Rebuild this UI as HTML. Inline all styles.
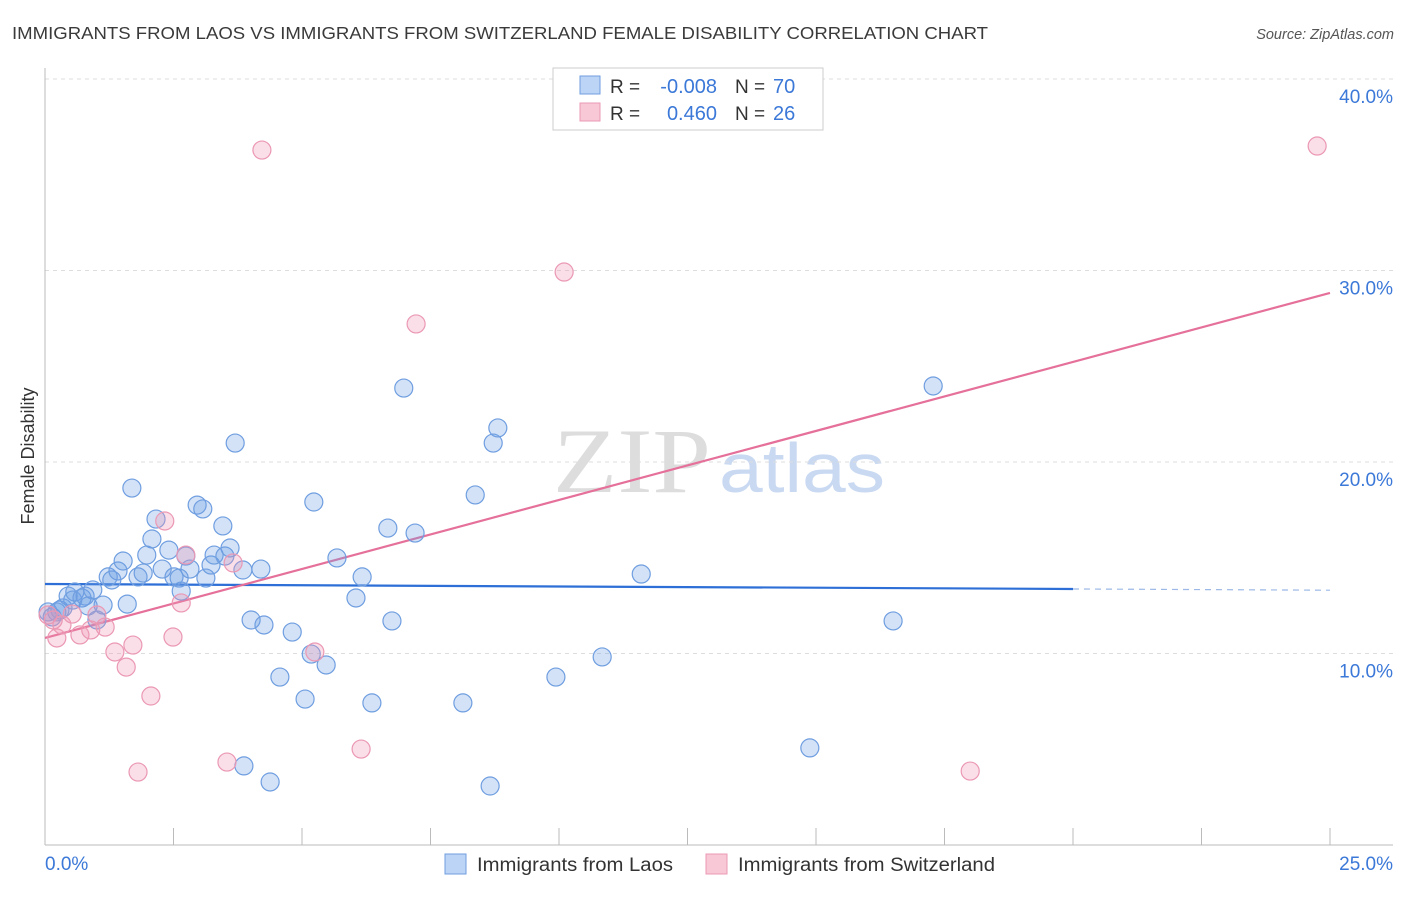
<!DOCTYPE html>
<html><head><meta charset="utf-8"><style>
body{margin:0;background:#fff;font-family:"Liberation Sans",sans-serif}
</style></head><body>
<svg id="c" width="1406" height="892" xmlns="http://www.w3.org/2000/svg">
<text x="12" y="39" font-size="17.5" fill="#3a3a3a" textLength="976" lengthAdjust="spacingAndGlyphs">IMMIGRANTS FROM LAOS VS IMMIGRANTS FROM SWITZERLAND FEMALE DISABILITY CORRELATION CHART</text>
<text x="1394" y="39" font-size="14.5" fill="#555" font-style="italic" text-anchor="end">Source: ZipAtlas.com</text>
<g><text x="553" y="492" font-size="92" fill="#ddd" font-family="Liberation Serif,serif" textLength="158" lengthAdjust="spacingAndGlyphs">ZIP</text><text x="719" y="492" font-size="70" fill="#c9d9f2" textLength="166" lengthAdjust="spacingAndGlyphs">atlas</text></g>
<text transform="translate(34,456) rotate(-90)" font-size="18" fill="#333" text-anchor="middle">Female Disability</text>
<g id="grid"></g><g id="axes"></g><g id="lines"></g><g id="pts"></g>
<g>
<rect x="553" y="68" width="270" height="62" fill="#fff" stroke="#ccc"/>
<rect x="580" y="76" width="20" height="18" fill="#bcd4f5" stroke="#6f9ee0"/>
<rect x="580" y="103" width="20" height="18" fill="#f9c8d7" stroke="#eb98b3"/>
<text x="610" y="93" font-size="19" fill="#333">R =</text>
<text x="717" y="93" font-size="20" fill="#3b78d8" text-anchor="end">-0.008</text>
<text x="735" y="93" font-size="19" fill="#333">N =</text>
<text x="773" y="93" font-size="20" fill="#3b78d8">70</text>
<text x="610" y="120" font-size="19" fill="#333">R =</text>
<text x="717" y="120" font-size="20" fill="#3b78d8" text-anchor="end">0.460</text>
<text x="735" y="120" font-size="19" fill="#333">N =</text>
<text x="773" y="120" font-size="20" fill="#3b78d8">26</text>
</g>
<g>
<rect x="445" y="854" width="21" height="20" fill="#bcd4f5" stroke="#6f9ee0"/>
<text x="477" y="871" font-size="19" fill="#333" textLength="196" lengthAdjust="spacingAndGlyphs">Immigrants from Laos</text>
<rect x="706" y="854" width="21" height="20" fill="#f9c8d7" stroke="#eb98b3"/>
<text x="738" y="871" font-size="19" fill="#333" textLength="257" lengthAdjust="spacingAndGlyphs">Immigrants from Switzerland</text>
</g>
</svg>
<script>
const blueX=[.06,.14,.23,.29,.35,.45,.54,.58,.72,.78,.84,.93,1.01,1.13,1.23,1.30,1.42,1.52,1.60,1.69,1.81,1.91,1.98,2.08,2.16,2.28,2.41,2.51,2.61,2.65,2.74,2.82,2.96,3.07,3.13,3.23,3.29,3.46,3.50,3.60,3.70,3.85,4.01,4.20,4.26,4.57,4.81,5.06,5.18,5.23,5.47,5.68,6.05,6.17,6.36,6.67,6.75,6.98,7.20,8.13,8.37,8.66,8.72,8.81,9.94,10.84,11.60,14.88,16.50,17.28,3.87,4.38];
const blueY=[12.17,11.91,12.17,12.27,12.38,13.0,12.79,13.21,12.90,13.0,12.48,13.32,11.75,12.53,14.0,13.84,14.31,14.83,12.58,18.64,14.0,14.2,15.14,15.98,17.02,14.41,15.40,14.0,13.94,13.26,15.09,14.41,17.75,17.55,13.94,14.62,15.14,16.66,15.09,15.51,20.99,14.36,11.75,14.41,11.49,8.77,11.12,7.62,9.97,17.91,9.40,14.99,12.90,14.0,7.42,16.55,11.70,23.86,16.29,7.42,18.28,3.08,20.99,21.78,8.77,9.82,14.15,5.07,11.70,23.97,4.13,3.29];
const pinkX=[.06,.16,.23,.33,.53,.68,.89,1.01,1.17,1.36,1.58,1.71,1.81,2.06,2.33,2.49,2.65,2.74,3.54,3.66,4.22,5.25,6.15,7.22,10.10,18.0,24.75];
const pinkY=[12.01,11.75,10.81,11.49,12.06,10.97,11.23,12.01,11.38,10.08,9.29,10.44,3.81,7.78,16.92,10.86,12.64,15.14,4.33,14.73,36.29,10.08,5.01,27.21,29.92,3.86,36.50];
const blueLine=[13.63,13.37]; // y at x=0 and x=20
const pinkLine=[10.81,28.83]; // y at x=0 and x=25
const yTicks=[10,20,30,40];
const yLabels=["10.0%","20.0%","30.0%","40.0%"];
const xTicks=[0,2.5,5,7.5,10,12.5,15,17.5,20,22.5,25];
const NS="http://www.w3.org/2000/svg";
const sx=v=>45+v*51.4, sy=v=>845-v*19.15;
function mk(t,a,p){const e=document.createElementNS(NS,t);for(const k in a)e.setAttribute(k,a[k]);document.getElementById(p).appendChild(e);return e;}
yTicks.forEach((t,i)=>{
 const g=mk('line',{x1:45,x2:1393,y1:sy(t),y2:sy(t),stroke:'#ddd','stroke-dasharray':'4,4'},'grid');
 
 
 const l=mk('text',{x:1393,y:sy(t)+24,'font-size':19,fill:'#3b78d8','text-anchor':'end'},'axes');
 l.textContent=yLabels[i];
 
 
});
const ax=mk('line',{x1:45,x2:1393,y1:845,y2:845,stroke:'#bbb'},'axes');


const ay=mk('line',{x1:45,x2:45,y1:68,y2:845,stroke:'#bbb'},'axes');


xTicks.forEach(t=>{const e=mk('line',{x1:sx(t),x2:sx(t),y1:828,y2:845,stroke:'#bbb'},'axes');
 
 });
const x0=mk('text',{x:45,y:870,'font-size':19,fill:'#3b78d8'},'axes');x0.textContent="0.0%";


const x1=mk('text',{x:1393,y:870,'font-size':19,fill:'#3b78d8','text-anchor':'end'},'axes');x1.textContent="25.0%";


blueX.forEach((v,i)=>{const c=mk('circle',{cx:sx(v),cy:sy(blueY[i]),r:9,fill:'rgba(110,160,230,0.3)',stroke:'#6f9ee0','stroke-width':1.2},'pts');
 
 });
pinkX.forEach((v,i)=>{const c=mk('circle',{cx:sx(v),cy:sy(pinkY[i]),r:9,fill:'rgba(240,150,180,0.3)',stroke:'#eb98b3','stroke-width':1.2},'pts');
 
 });
const by=x=>blueLine[0]+(blueLine[1]-blueLine[0])*x/20;
const b1=mk('line',{x1:sx(0),y1:sy(by(0)),x2:sx(20),y2:sy(by(20)),stroke:'#2d6fd6','stroke-width':2.2},'lines');


const b2=mk('line',{x1:sx(20),y1:sy(by(20)),x2:sx(25),y2:sy(by(25)),stroke:'#9bb8e6','stroke-width':1.2,'stroke-dasharray':'6,5'},'lines');


const p1=mk('line',{x1:sx(0),y1:sy(pinkLine[0]),x2:sx(25),y2:sy(pinkLine[1]),stroke:'#e5709a','stroke-width':2.2},'lines');


</script>
</body></html>
